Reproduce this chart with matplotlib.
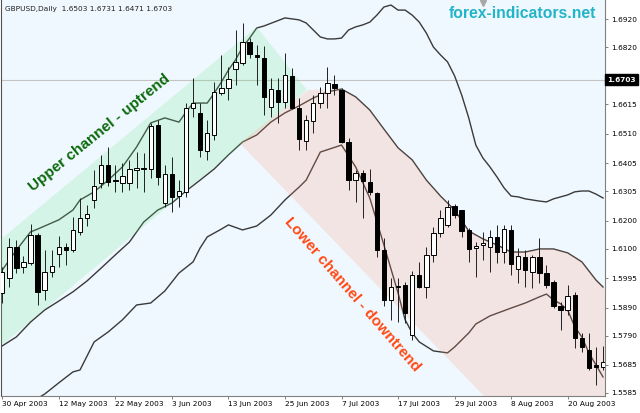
import matplotlib
matplotlib.use("Agg")
import matplotlib.pyplot as plt
import matplotlib.transforms as mtransforms
from matplotlib.patches import Polygon

# GBPUSD daily bars, 30 Apr 2003 .. 27 Aug 2003 (one value per trading day)
opens = [1.5942, 1.5996, 1.6106, 1.6035, 1.6049, 1.6149, 1.5953, 1.6017, 1.6081, 1.6106,
         1.6095, 1.6160, 1.6210, 1.6274, 1.6335, 1.6399, 1.6345, 1.6335, 1.6335, 1.6381,
         1.6388, 1.6385, 1.6542, 1.6263, 1.6367, 1.6288, 1.6303, 1.6602, 1.6585, 1.6449,
         1.6506, 1.6656, 1.6674, 1.6742, 1.6763, 1.6838, 1.6792, 1.6781, 1.6606, 1.6667,
         1.6624, 1.6717, 1.6602, 1.6485, 1.6556, 1.6620, 1.6656, 1.6688, 1.6667, 1.6481,
         1.6345, 1.6370, 1.6338, 1.6299, 1.6095, 1.5917, 1.5963, 1.5971, 1.5792, 1.6006,
         1.5963, 1.6078, 1.6156, 1.6185, 1.6253, 1.6238, 1.6167, 1.6103, 1.6113, 1.6106,
         1.6142, 1.6088, 1.6167, 1.6028, 1.6071, 1.6017, 1.6071, 1.6013, 1.5981, 1.5896,
         1.5881, 1.5935, 1.5781, 1.5738, 1.5685, 1.5678]
highs = [1.6035, 1.6138, 1.6131, 1.6074, 1.6188, 1.6156, 1.6095, 1.6095, 1.6145, 1.6120,
         1.6213, 1.6281, 1.6256, 1.6381, 1.6435, 1.6463, 1.6399, 1.6406, 1.6417, 1.6445,
         1.6442, 1.6549, 1.6560, 1.6399, 1.6428, 1.6345, 1.6620, 1.6710, 1.6620, 1.6560,
         1.6695, 1.6792, 1.6749, 1.6881, 1.6906, 1.6852, 1.6827, 1.6824, 1.6710, 1.6710,
         1.6799, 1.6745, 1.6638, 1.6577, 1.6649, 1.6677, 1.6749, 1.6720, 1.6674, 1.6495,
         1.6381, 1.6381, 1.6385, 1.6303, 1.6138, 1.5996, 1.5996, 1.5981, 1.6021, 1.6053,
         1.6106, 1.6178, 1.6238, 1.6274, 1.6260, 1.6238, 1.6174, 1.6124, 1.6160, 1.6167,
         1.6185, 1.6185, 1.6185, 1.6103, 1.6095, 1.6078, 1.6138, 1.6042, 1.5988, 1.5910,
         1.5971, 1.5946, 1.5799, 1.5799, 1.5749, 1.5753]
lows = [1.5906, 1.5963, 1.6013, 1.6013, 1.6042, 1.5899, 1.5917, 1.5999, 1.6035, 1.6042,
        1.6088, 1.6149, 1.6181, 1.6245, 1.6317, 1.6324, 1.6303, 1.6303, 1.6310, 1.6317,
        1.6303, 1.6353, 1.6328, 1.6249, 1.6231, 1.6249, 1.6285, 1.6570, 1.6428, 1.6417,
        1.6488, 1.6649, 1.6631, 1.6685, 1.6756, 1.6781, 1.6685, 1.6577, 1.6570, 1.6549,
        1.6602, 1.6599, 1.6452, 1.6452, 1.6513, 1.6602, 1.6602, 1.6649, 1.6477, 1.6310,
        1.6267, 1.6210, 1.6292, 1.6071, 1.5896, 1.5846, 1.5838, 1.5835, 1.5774, 1.5960,
        1.5924, 1.6053, 1.6142, 1.6178, 1.6210, 1.6142, 1.6053, 1.5999, 1.6060, 1.6017,
        1.6049, 1.6049, 1.6006, 1.5978, 1.5963, 1.5960, 1.5978, 1.5960, 1.5888, 1.5810,
        1.5863, 1.5746, 1.5731, 1.5667, 1.5614, 1.5667]
closes = [1.6017, 1.6106, 1.6031, 1.6053, 1.6149, 1.5946, 1.6017, 1.6038, 1.6106, 1.6095,
          1.6167, 1.6210, 1.6224, 1.6324, 1.6399, 1.6338, 1.6342, 1.6360, 1.6385, 1.6388,
          1.6385, 1.6538, 1.6356, 1.6367, 1.6285, 1.6306, 1.6602, 1.6620, 1.6452, 1.6513,
          1.6660, 1.6674, 1.6706, 1.6767, 1.6838, 1.6795, 1.6785, 1.6642, 1.6670, 1.6624,
          1.6720, 1.6602, 1.6492, 1.6560, 1.6620, 1.6656, 1.6692, 1.6674, 1.6481, 1.6345,
          1.6370, 1.6342, 1.6303, 1.6095, 1.5917, 1.5963, 1.5967, 1.5871, 1.6006, 1.5963,
          1.6078, 1.6156, 1.6210, 1.6249, 1.6220, 1.6163, 1.6099, 1.6110, 1.6120, 1.6142,
          1.6088, 1.6170, 1.6046, 1.6074, 1.6024, 1.6071, 1.6013, 1.5971, 1.5896, 1.5881,
          1.5931, 1.5781, 1.5749, 1.5674, 1.5678, 1.5696]

# Bollinger bands (bar index, price)
upper_idx = [0, 2, 4, 5, 8, 10, 11, 13, 15, 17, 19, 21, 23, 25, 26, 27, 29, 30, 31, 32,
             33, 34, 35, 36, 37, 40, 42, 43, 44, 45, 46, 47, 48, 49, 50, 51, 52, 53, 54, 55,
             56, 57, 58, 59, 60, 61, 62, 63, 64, 65, 66, 67, 68, 69, 70, 71, 72, 73, 74, 75,
             76, 77, 78, 79, 80, 81, 82, 83, 84, 85]
upper_val = [1.6024, 1.6095, 1.6160, 1.6170, 1.6203, 1.6238, 1.6274, 1.6303, 1.6345, 1.6392,
             1.6463, 1.6549, 1.6567, 1.6552, 1.6588, 1.6620, 1.6620, 1.6656, 1.6695, 1.6738,
             1.6774, 1.6820, 1.6852, 1.6888, 1.6895, 1.6924, 1.6917, 1.6906, 1.6881, 1.6856,
             1.6849, 1.6849, 1.6852, 1.6881, 1.6892, 1.6899, 1.6909, 1.6934, 1.6963, 1.6970,
             1.6952, 1.6952, 1.6934, 1.6909, 1.6870, 1.6820, 1.6792, 1.6767, 1.6717, 1.6649,
             1.6567, 1.6470, 1.6424, 1.6392, 1.6356, 1.6317, 1.6288, 1.6285, 1.6278, 1.6274,
             1.6270, 1.6267, 1.6278, 1.6285, 1.6292, 1.6303, 1.6306, 1.6306, 1.6295, 1.6281]
mid_idx = [0, 2, 4, 6, 8, 10, 12, 14, 16, 18, 20, 22, 24, 26, 28, 30, 32, 34, 36, 38,
           40, 42, 44, 46, 48, 50, 52, 54, 56, 58, 60, 62, 64, 66, 68, 70, 72, 74, 76, 78,
           80, 82, 84, 85]
mid_val = [1.5753, 1.5785, 1.5838, 1.5881, 1.5913, 1.5946, 1.5985, 1.6031, 1.6078, 1.6124,
           1.6195, 1.6238, 1.6263, 1.6306, 1.6345, 1.6385, 1.6435, 1.6481, 1.6506, 1.6552,
           1.6585, 1.6610, 1.6638, 1.6660, 1.6670, 1.6642, 1.6595, 1.6527, 1.6460, 1.6417,
           1.6345, 1.6288, 1.6238, 1.6163, 1.6135, 1.6113, 1.6088, 1.6088, 1.6099, 1.6099,
           1.6085, 1.6053, 1.5988, 1.5963]
lower_idx = [0, 3, 6, 8, 10, 11, 13, 15, 17, 19, 21, 23, 25, 27, 28, 29, 31, 32, 34, 36,
             38, 40, 42, 43, 45, 48, 50, 52, 54, 56, 57, 58, 59, 61, 63, 64, 66, 67, 69, 72,
             74, 76, 77, 78, 79, 80, 81, 82, 83, 84, 85]
lower_val = [1.5482, 1.5535, 1.5581, 1.5621, 1.5660, 1.5667, 1.5767, 1.5803, 1.5846, 1.5899,
             1.5906, 1.5949, 1.6013, 1.6053, 1.6103, 1.6142, 1.6170, 1.6185, 1.6167, 1.6181,
             1.6220, 1.6274, 1.6320, 1.6345, 1.6445, 1.6470, 1.6392, 1.6281, 1.6113, 1.5942,
             1.5846, 1.5799, 1.5767, 1.5735, 1.5728, 1.5749, 1.5799, 1.5831, 1.5860, 1.5888,
             1.5906, 1.5928, 1.5938, 1.5917, 1.5903, 1.5881, 1.5821, 1.5785, 1.5728, 1.5685,
             1.5642]

# hand drawn channels (bar index, price)
up_channel = [(-1, 1.6117), (36.0, 1.6892), (43.1, 1.6667), (-1, 1.5735)]
down_channel_start = [(33.6, 1.6477), (43.3, 1.6667)]
down_channel_end = [(86, 1.5935), (86, 1.5400), (71.4, 1.5489)]

xtick_pos = [0, 8, 16, 24, 32, 40, 48, 56, 64, 72, 80]
xtick_labels = ["30 Apr 2003", "12 May 2003", "22 May 2003", "3 Jun 2003", "13 Jun 2003",
                "25 Jun 2003", "7 Jul 2003", "17 Jul 2003", "29 Jul 2003", "8 Aug 2003",
                "20 Aug 2003"]
ytick_vals = [1.6920, 1.6820, 1.6715, 1.6615, 1.6510, 1.6405, 1.6305, 1.6200, 1.6100,
              1.5995, 1.5890, 1.5790, 1.5685, 1.5585]
bid = 1.6703

fig = plt.figure(figsize=(6.4, 4.13), dpi=100, facecolor="white")
ax = fig.add_axes([1 / 640, 17 / 413, 604 / 640, 396 / 413])
ax.set_facecolor("#f0f8ff")

idx = list(range(len(opens)))
ax.axhline(bid, color="#c4c4c4", lw=0.8, zorder=0.5)

# bands (sit under the channel overlays, so they pick up its tint)
for bx, by in ((upper_idx, upper_val), (mid_idx, mid_val), (lower_idx, lower_val)):
    ax.plot(bx, by, color="#3a3a3a", lw=1.0, zorder=2)

# translucent channel overlays
ax.add_patch(Polygon(up_channel, closed=True, facecolor=(0.39, 0.90, 0.51),
                     alpha=0.2, edgecolor="none", zorder=3))
pink = list(down_channel_start)
pink += [(i, v) for i, v in zip(mid_idx, mid_val) if i >= 48]
pink += down_channel_end
ax.add_patch(Polygon(pink, closed=True, facecolor=(1.0, 0.58, 0.43),
                     alpha=0.2, edgecolor="none", zorder=3))

# candles on top
ax.vlines(idx, lows, highs, color="#202020", lw=0.7, zorder=4)
bull = [i for i in idx if closes[i] >= opens[i]]
bear = [i for i in idx if closes[i] < opens[i]]
ax.bar(bull, [closes[i] - opens[i] for i in bull], bottom=[opens[i] for i in bull],
       width=0.62, color="white", edgecolor="black", linewidth=0.7, zorder=5)
ax.bar(bear, [closes[i] - opens[i] for i in bear], bottom=[opens[i] for i in bear],
       width=0.62, color="black", edgecolor="black", linewidth=0.7, zorder=5)

ax.text(13.8, 1.6513, "Upper channel - uptrend", rotation=39, rotation_mode="anchor",
        ha="center", va="center", color="#0b6a0b", fontsize=11, fontweight="bold",
        family="Liberation Sans", zorder=6)
ax.text(49.5, 1.5935, "Lower channel - downtrend", rotation=-49, rotation_mode="anchor",
        ha="center", va="center", color="#ff4a14", fontsize=11, fontweight="bold",
        family="Liberation Sans", zorder=6)

ax.text(0.007, 0.978, "GBPUSD,Daily  1.6503 1.6731 1.6471 1.6703", transform=ax.transAxes,
        ha="left", va="center", fontsize=5.3, color="#202020", zorder=7)
ax.text(0.864, 0.967, "forex-indicators.net", transform=ax.transAxes, ha="center",
        va="center", fontsize=11.3, fontweight="bold", family="Liberation Sans",
        color="#22b4c8", zorder=7)
ax.plot([0.798], [0.993], marker="v", markersize=4.5, color="#a8a8a8",
        transform=ax.transAxes, clip_on=False, zorder=7)

ax.set_xlim(-0.18, 85.28)
ax.set_ylim(1.5574, 1.6988)

ax.yaxis.tick_right()
ax.set_yticks(ytick_vals)
ax.set_yticklabels(["%.4f" % v for v in ytick_vals])
ax.set_xticks(xtick_pos)
ax.set_xticklabels(xtick_labels)
for lab in ax.get_xticklabels():
    lab.set_horizontalalignment("left")
ax.tick_params(axis="both", labelsize=5.3, colors="#808080", labelcolor="black",
               length=2.5, width=0.7)
ax.tick_params(axis="x", pad=1.0)
ax.tick_params(axis="y", pad=2.0)

bt = mtransforms.blended_transform_factory(ax.transAxes, ax.transData)
ax.text(1.004, bid, "1.6703", transform=bt, ha="left", va="center", fontsize=5.3,
        fontweight="bold", color="white", zorder=8,
        bbox=dict(boxstyle="square,pad=0.35", facecolor="black", edgecolor="black"))

ax.spines["top"].set_visible(False)
ax.spines["left"].set_color("#505050")
ax.spines["right"].set_color("#808080")
ax.spines["bottom"].set_color("#808080")
for s in ("left", "right", "bottom"):
    ax.spines[s].set_linewidth(0.8)

fig.savefig("out.png", dpi=100, facecolor="white")
